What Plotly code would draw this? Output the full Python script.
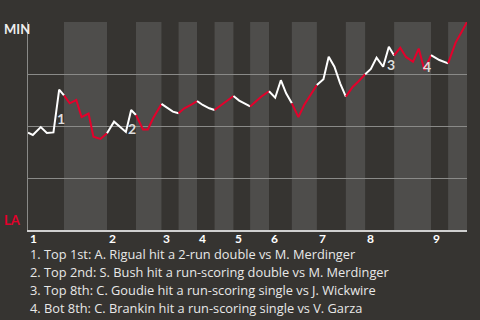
import plotly.graph_objects as go

# Game progress (0-100) and MIN win probability (%) for each plate appearance
progress = [0, 1.1, 2.9, 4.3, 5.8, 7.1, 8.2, 9.5, 11.0, 12.2, 13.8, 14.9, 16.5, 18.0,
            19.6, 21.0, 22.3, 23.5, 24.6, 26.2, 27.3, 28.5, 29.6, 30.4, 31.8, 33.0,
            34.3, 35.6, 37.1, 38.5, 39.8, 41.3, 42.5, 44.0, 45.5, 46.8, 48.1, 49.3,
            50.6, 51.9, 53.1, 54.9, 56.3, 57.6, 58.8, 60.1, 61.6, 62.9, 64.5, 65.8,
            67.3, 68.5, 69.8, 71.1, 72.4, 74.0, 75.2, 76.8, 78.1, 79.4, 80.9, 82.2,
            83.4, 84.8, 86.1, 87.7, 89.0, 90.3, 91.8, 93.7, 95.7, 97.4, 98.8, 100]
min_wp = [46.8, 45.7, 49.5, 46.6, 46.9, 67.5, 64.7, 60.9, 62.5, 54.3, 56.0, 44.9, 43.8, 46.5,
          52.1, 49.5, 47.1, 57.7, 55.3, 48.3, 48.3, 53.7, 57.7, 60.6, 58.5, 56.9,
          56.1, 58.5, 60.1, 62.0, 60.1, 58.5, 57.7, 60.1, 62.5, 64.4, 62.2, 60.9,
          59.4, 61.7, 64.1, 66.7, 63.6, 72.0, 65.7, 60.9, 54.3, 60.1, 65.7, 69.7,
          72.5, 83.3, 78.5, 70.5, 64.1, 68.9, 71.3, 74.9, 77.4, 82.9, 78.5, 88.1,
          83.9, 87.6, 83.2, 80.9, 87.2, 76.9, 84.1, 81.7, 80.1, 90.1, 95.3, 100]

# Half-inning boundaries (game progress)
half_bounds = [0, 8.2, 18.0, 24.6, 30.4, 34.3, 38.5, 42.5, 46.8, 50.6, 54.9, 60.1,
               65.8, 72.4, 76.8, 83.4, 91.8, 95.7, 100]
innings = ["1", "2", "3", "4", "5", "6", "7", "8", "9"]

# Key events
event_ids = ["1", "2", "3", "4"]
event_x = [7.5, 23.8, 82.7, 90.9]
event_y = [53.8, 48.9, 79.6, 78.4]
event_text = [
    "1. Top 1st: A. Rigual hit a 2-run double vs M. Merdinger",
    "2. Top 2nd: S. Bush hit a run-scoring double vs M. Merdinger",
    "3. Top 8th: C. Goudie hit a run-scoring single vs J. Wickwire",
    "4. Bot 8th: C. Brankin hit a run-scoring single vs V. Garza",
]

BG = "#363431"
BAND = "#4e4d4b"
RED = "#e4002b"
WHITE = "#ffffff"
FONT = "Lato"
TEXT_FONT = "Open Sans"

fig = go.Figure()

shapes = []
for k in range(len(half_bounds) - 1):
    if k % 2 == 1:
        shapes.append(dict(type="rect", xref="x", yref="paper",
                           x0=half_bounds[k], x1=half_bounds[k + 1], y0=0, y1=1,
                           fillcolor=BAND, line=dict(width=0), layer="below"))

for k in range(len(half_bounds) - 1):
    lo, hi = half_bounds[k], half_bounds[k + 1]
    xs = [x for x in progress if lo - 1e-9 <= x <= hi + 1e-9]
    ys = [y for x, y in zip(progress, min_wp) if lo - 1e-9 <= x <= hi + 1e-9]
    fig.add_trace(go.Scatter(x=xs, y=ys, mode="lines",
                             line=dict(color=WHITE if k % 2 == 0 else RED, width=2),
                             hoverinfo="skip", showlegend=False))

annotations = []
for i, t in enumerate(event_ids):
    annotations.append(dict(x=event_x[i], y=event_y[i], xref="x", yref="y", text=t,
                            showarrow=False, xanchor="center", yanchor="middle",
                            font=dict(family=FONT, size=14, color="#dddddd", weight="bold")))

for i, name in enumerate(innings):
    annotations.append(dict(x=half_bounds[2 * i], y=0, xref="x", yref="paper", text=name,
                            showarrow=False, xanchor="left", yanchor="top", yshift=1,
                            font=dict(family=FONT, size=12, color="#ffffff", weight="bold")))

for i, line in enumerate(event_text):
    annotations.append(dict(x=0, y=0, xref="paper", yref="paper", text=line,
                            showarrow=False, xanchor="left", yanchor="middle",
                            xshift=0, yshift=-24 - 18 * i,
                            font=dict(family=TEXT_FONT, size=12.8, color="#e8e8e8")))

annotations.append(dict(x=0, y=100, xref="paper", yref="y", text="MIN", showarrow=False,
                        xanchor="left", yanchor="middle", xshift=-26, yshift=-7,
                        font=dict(family=FONT, size=13, color="#eeeeee", weight="bold")))
annotations.append(dict(x=0, y=0, xref="paper", yref="y", text="LA", showarrow=False,
                        xanchor="left", yanchor="middle", xshift=-26, yshift=10,
                        font=dict(family=FONT, size=13, color=RED, weight="bold")))

fig.update_layout(
    width=480, height=320,
    margin=dict(l=28, r=13, t=22, b=90),
    paper_bgcolor=BG, plot_bgcolor=BG,
    shapes=shapes, annotations=annotations,
    xaxis=dict(range=[0, 100], showgrid=False, zeroline=False, showticklabels=False,
               showline=True, linecolor="#d0d0d0", linewidth=2, fixedrange=True),
    yaxis=dict(range=[0, 100], tickvals=[25, 50, 75, 100], showticklabels=False,
               showgrid=True, gridcolor="#8a8a88", gridwidth=1, zeroline=False,
               showline=True, linecolor="#8a8a88", linewidth=1, fixedrange=True),
    showlegend=False,
)

fig.write_html("out.html")
